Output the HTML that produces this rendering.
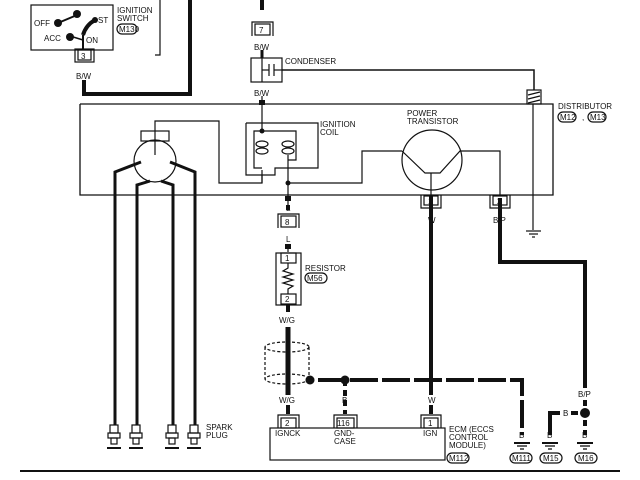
<!DOCTYPE html>
<html><head><meta charset="utf-8"><style>
html,body{margin:0;padding:0;background:#fff}
svg{display:block}
text{font-family:"Liberation Sans",sans-serif;font-size:8px;fill:#111}
</style></head><body>
<svg width="640" height="480" viewBox="0 0 640 480" xmlns="http://www.w3.org/2000/svg">
<g fill="none" stroke="#111" stroke-width="1.2">
<rect x="31" y="5" width="82" height="45"/>
<polyline points="160,0 160,55 155,55"/>
<line x1="58" y1="23" x2="77" y2="15" stroke-width="2"/>
<path d="M83,35 Q86,25 95,20" stroke-width="4"/>
<line x1="83" y1="35" x2="83" y2="50" stroke-width="2"/>
<line x1="70" y1="36" x2="83" y2="40" stroke-width="1.5"/>
<rect x="78" y="50" width="13" height="10"/>
<rect x="75" y="49" width="19" height="13"/>
<polyline points="84,80 84,94 190,94 190,0" stroke-width="4"/>
<line x1="262" y1="0" x2="262" y2="10" stroke-width="4"/>
<rect x="255" y="24" width="15" height="11"/>
<path d="M252,36 V22 H273 V36"/>
<line x1="262" y1="50" x2="262" y2="58" stroke-width="3"/>
<rect x="251" y="58" width="31" height="24"/>
<line x1="262" y1="58" x2="262" y2="82"/>
<line x1="262" y1="70" x2="269" y2="70"/>
<line x1="269" y1="64" x2="269" y2="76"/><line x1="274" y1="64" x2="274" y2="76"/>
<line x1="274" y1="70" x2="282" y2="70"/>
<polyline points="282,70 534,70 534,90" stroke-width="1.5"/>
<rect x="527" y="90" width="14" height="14"/>
<line x1="528" y1="95" x2="540" y2="92"/><line x1="528" y1="99" x2="540" y2="96"/><line x1="528" y1="103" x2="540" y2="100"/>
<line x1="533" y1="104" x2="533" y2="230"/>
<line x1="526" y1="231" x2="541" y2="231"/><line x1="529" y1="234" x2="538" y2="234"/><line x1="532" y1="237" x2="535" y2="237"/>
<line x1="262" y1="96" x2="262" y2="130"/>
<polyline points="80,104 553,104 553,195 80,195 80,104" stroke-width="1.3"/>
<circle cx="155" cy="161" r="21"/>
<rect x="141" y="131" width="28" height="10"/>
<polyline points="155,155 155,121 219,121 219,183 262,183 262,175"/>
<polyline points="246,123 318,123 318,168 275,168 275,175 246,175 246,123"/>
<polyline points="262,170 262,183"/>
<path d="M262,131 H254 V168 H262"/>
<path d="M262,131 H288"/>
<path d="M288,131 H296 V160 H288"/>
<ellipse cx="262" cy="144" rx="6" ry="3"/><ellipse cx="262" cy="151" rx="6" ry="3"/>
<ellipse cx="288" cy="144" rx="6" ry="3"/><ellipse cx="288" cy="151" rx="6" ry="3"/>
<line x1="288" y1="155" x2="288" y2="205"/>
<polyline points="288,183 362,183 362,151 402,151"/>
<circle cx="432" cy="160" r="30"/>
<polyline points="402,151 425,173 440,173 460,151 500,151 500,195"/>
<line x1="431" y1="173" x2="431" y2="195"/>
<polyline points="141,162 115,172 115,425" stroke-width="3"/>
<polyline points="150,181 137,185 137,425" stroke-width="3"/>
<polyline points="161,181 173,185 173,425" stroke-width="3"/>
<polyline points="170,162 195,172 195,425" stroke-width="3"/>
<line x1="288" y1="205" x2="288" y2="210" stroke-width="4"/>
<rect x="281" y="216" width="15" height="11"/>
<path d="M278,228 V214 H299 V228"/>
<line x1="288" y1="244" x2="288" y2="252"/>
<rect x="276" y="253" width="25" height="52"/>
<rect x="281" y="253" width="15" height="10"/><rect x="281" y="294" width="15" height="10"/>
<polyline points="288,263 288,268 283,271 293,274 283,277 293,280 283,283 293,286 288,289 288,294"/>
<line x1="288" y1="305" x2="288" y2="312" stroke-width="4"/>
<line x1="288" y1="327" x2="288" y2="395" stroke-width="5"/>
<line x1="288" y1="405" x2="288" y2="414" stroke-width="4"/>
<g stroke-dasharray="3,2">
<ellipse cx="287" cy="347" rx="22" ry="5"/>
<ellipse cx="287" cy="379" rx="22" ry="5"/>
<line x1="265" y1="347" x2="265" y2="379"/><line x1="309" y1="347" x2="309" y2="379"/>
</g>
<polyline points="318,380 522,380 522,435" stroke-width="4" stroke-dasharray="28,4"/>
<line x1="345" y1="380" x2="345" y2="414" stroke-width="4" stroke-dasharray="6,4"/>
<line x1="431" y1="195" x2="431" y2="395" stroke-width="4"/>
<line x1="431" y1="405" x2="431" y2="414" stroke-width="4"/>
<polyline points="500,198 500,262 585,262 585,388" stroke-width="4"/>
<line x1="585" y1="400" x2="585" y2="435" stroke-width="4" stroke-dasharray="6,4"/>
<polyline points="550,435 550,413 560,413" stroke-width="4"/>
<line x1="571" y1="413" x2="578" y2="413" stroke-width="4"/>
<rect x="270" y="428" width="175" height="32"/>
<rect x="281" y="418" width="15" height="10"/><path d="M278,428 V415 H299 V428"/>
<rect x="337" y="418" width="17" height="10"/><path d="M334,428 V415 H357 V428"/>
<rect x="424" y="418" width="14" height="10"/><path d="M421,428 V415 H441 V428"/>
<rect x="424" y="196" width="14" height="9"/><path d="M421,195 V208 H441 V195"/>
<rect x="493" y="196" width="14" height="9"/><path d="M490,195 V208 H510 V195"/>
<line x1="431" y1="208" x2="431" y2="213" stroke-width="4"/>
<line x1="500" y1="208" x2="500" y2="213" stroke-width="4"/>
<g stroke-width="1.3">
<line x1="514" y1="443" x2="530" y2="443" stroke-width="2"/><line x1="517" y1="446" x2="527" y2="446"/><line x1="520" y1="449" x2="524" y2="449"/>
<line x1="542" y1="443" x2="558" y2="443" stroke-width="2"/><line x1="545" y1="446" x2="555" y2="446"/><line x1="548" y1="449" x2="552" y2="449"/>
<line x1="577" y1="443" x2="593" y2="443" stroke-width="2"/><line x1="580" y1="446" x2="590" y2="446"/><line x1="583" y1="449" x2="587" y2="449"/>
</g>
<g stroke-width="1.2">
<g transform="translate(114,0)"><rect x="-4" y="425" width="8" height="8"/><rect x="-6" y="433" width="12" height="5"/><rect x="-3" y="438" width="6" height="6"/><line x1="-7" y1="448" x2="7" y2="448" stroke-width="2"/></g>
<g transform="translate(136,0)"><rect x="-4" y="425" width="8" height="8"/><rect x="-6" y="433" width="12" height="5"/><rect x="-3" y="438" width="6" height="6"/><line x1="-7" y1="448" x2="7" y2="448" stroke-width="2"/></g>
<g transform="translate(172,0)"><rect x="-4" y="425" width="8" height="8"/><rect x="-6" y="433" width="12" height="5"/><rect x="-3" y="438" width="6" height="6"/><line x1="-7" y1="448" x2="7" y2="448" stroke-width="2"/></g>
<g transform="translate(194,0)"><rect x="-4" y="425" width="8" height="8"/><rect x="-6" y="433" width="12" height="5"/><rect x="-3" y="438" width="6" height="6"/><line x1="-7" y1="448" x2="7" y2="448" stroke-width="2"/></g>
</g>
<rect x="117" y="24" width="20" height="10" rx="5"/>
<rect x="305" y="273" width="22" height="10" rx="5"/>
<rect x="558" y="112" width="18" height="10" rx="5"/>
<rect x="588" y="112" width="18" height="10" rx="5"/>
<rect x="447" y="453" width="22" height="10" rx="5"/>
<rect x="510" y="453" width="22" height="10" rx="5"/>
<rect x="540" y="453" width="22" height="10" rx="5"/>
<rect x="575" y="453" width="22" height="10" rx="5"/>
<line x1="20" y1="471" x2="620" y2="471" stroke-width="2"/>
</g>
<g fill="#111">
<circle cx="58" cy="23" r="4"/><circle cx="77" cy="14" r="4"/><circle cx="70" cy="37" r="4"/><circle cx="95" cy="20" r="3"/>
<circle cx="262" cy="131" r="2.5"/><circle cx="288" cy="183" r="2.5"/>
<circle cx="310" cy="380" r="4.5"/><circle cx="345" cy="380" r="4.5"/><circle cx="585" cy="413" r="5"/>
<rect x="259" y="100" width="6" height="5"/><rect x="285" y="196" width="6" height="5"/><rect x="285" y="244" width="6" height="5"/>
</g>
<text x="117" y="13">IGNITION</text><text x="117" y="21">SWITCH</text>
<text x="119" y="32">M130</text>
<text x="34" y="26">OFF</text><text x="98" y="23">ST</text><text x="44" y="41">ACC</text><text x="86" y="43">ON</text>
<text x="81" y="59" font-size="7">3</text>
<text x="76" y="79">B/W</text>
<text x="259" y="33" font-size="7">7</text>
<text x="254" y="50">B/W</text>
<text x="285" y="64">CONDENSER</text>
<text x="254" y="96">B/W</text>
<text x="320" y="127">IGNITION</text><text x="320" y="135">COIL</text>
<text x="407" y="116">POWER</text><text x="407" y="124">TRANSISTOR</text>
<text x="558" y="109">DISTRIBUTOR</text>
<text x="560" y="120" font-size="7">M12</text><text x="582" y="120">,</text><text x="590" y="120" font-size="7">M13</text>
<text x="428" y="204" font-size="7">1</text><text x="497" y="204" font-size="7">2</text>
<text x="428" y="223">W</text><text x="493" y="223">B/P</text>
<text x="286" y="211">L</text>
<text x="285" y="225" font-size="7">8</text>
<text x="286" y="242">L</text>
<text x="285" y="261" font-size="7">1</text><text x="285" y="302" font-size="7">2</text>
<text x="305" y="271">RESISTOR</text><text x="307" y="281" font-size="7">M56</text>
<text x="279" y="323">W/G</text>
<text x="279" y="403">W/G</text>
<text x="342" y="403">B</text>
<text x="428" y="403">W</text>
<text x="285" y="426" font-size="7">2</text><text x="337" y="426" font-size="7">116</text><text x="428" y="426" font-size="7">1</text>
<text x="275" y="436">IGNCK</text>
<text x="334" y="436">GND-</text><text x="334" y="444">CASE</text>
<text x="423" y="436">IGN</text>
<text x="449" y="432">ECM (ECCS</text><text x="449" y="440">CONTROL</text><text x="449" y="448">MODULE)</text>
<text x="449" y="461" font-size="7">M112</text>
<text x="512" y="461" font-size="7">M111</text><text x="543" y="461" font-size="7">M15</text><text x="578" y="461" font-size="7">M16</text>
<text x="519" y="438">B</text><text x="547" y="438">B</text><text x="582" y="438">B</text>
<text x="563" y="416">B</text>
<text x="578" y="397">B/P</text>
<text x="206" y="430">SPARK</text><text x="206" y="438">PLUG</text>
</svg>
</body></html>
